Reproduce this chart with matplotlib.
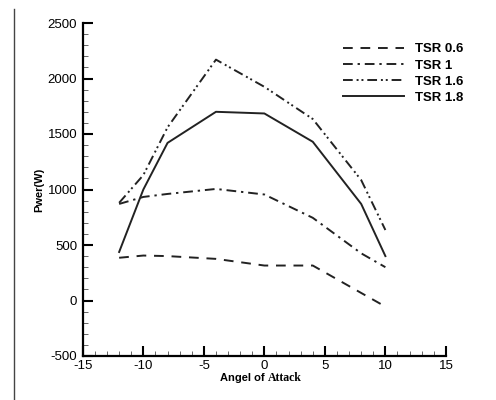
import matplotlib
matplotlib.use("Agg")
import matplotlib.pyplot as plt
from matplotlib.lines import Line2D
from matplotlib.ticker import MultipleLocator

plt.rcParams["font.family"] = ["Liberation Sans", "DejaVu Sans"]
plt.rcParams["axes.unicode_minus"] = False

angle = [-12, -10, -8, -4, 0, 4, 8, 10]
tsr_06 = [385, 405, 400, 375, 315, 315, 68, -55]
tsr_1 = [870, 933, 960, 1005, 955, 745, 425, 300]
tsr_16 = [880, 1130, 1560, 2170, 1925, 1635, 1085, 635]
tsr_18 = [437, 1000, 1420, 1700, 1685, 1430, 870, 400]
labels = ["TSR 0.6", "TSR 1", "TSR 1.6", "TSR 1.8"]

fig = plt.figure(figsize=(4.96, 4.0), dpi=100)
ax = fig.add_axes([0.167, 0.11, 0.732, 0.8325])

lw = 1.4
ax.plot(angle, tsr_06, color="#222222", lw=lw, dashes=(5, 4), label=labels[0])
ax.plot(angle, tsr_1, color="#222222", lw=lw, dashes=(5, 2.5, 1.2, 2.5), label=labels[1])
ax.plot(angle, tsr_16, color="#222222", lw=lw, dashes=(5, 2, 1, 1.5, 1, 2), label=labels[2])
ax.plot(angle, tsr_18, color="#222222", lw=lw, label=labels[3])

ax.set_xlim(-15, 15)
ax.set_ylim(-500, 2500)
ax.xaxis.set_major_locator(MultipleLocator(5))
ax.xaxis.set_minor_locator(MultipleLocator(1))
ax.yaxis.set_major_locator(MultipleLocator(500))
ax.yaxis.set_minor_locator(MultipleLocator(100))
ax.tick_params(which="major", direction="in", length=7, width=1.5, labelsize=9.5, pad=3)
ax.tick_params(which="minor", direction="in", length=3.5, width=0.7, color="#666666")
ax.tick_params(axis="y", which="major", pad=4)

for side in ("top", "right"):
    ax.spines[side].set_visible(False)
for side in ("left", "bottom"):
    ax.spines[side].set_linewidth(1.6)

ax.set_ylabel("Pwer(W)", fontsize=8, fontweight="bold", labelpad=0)
ax.yaxis.set_label_coords(-0.105, 0.5)
ax.text(0.50, -0.075, "Angel of", transform=ax.transAxes, ha="right", va="baseline",
        fontsize=8, fontweight="bold")
ax.text(0.51, -0.075, "Attack", transform=ax.transAxes, ha="left", va="baseline",
        fontsize=8.5, fontweight="bold", family="Liberation Serif")

ax.legend(loc="upper right", bbox_to_anchor=(1.08, 0.975), frameon=False,
          handlelength=4.6, handletextpad=0.8, labelspacing=0.3,
          prop={"weight": "bold", "size": 9.5})

fig.add_artist(Line2D([0.028, 0.028], [0.0, 0.978], transform=fig.transFigure,
                      color="#444444", lw=1.0))

fig.savefig("out.png", dpi=100)
